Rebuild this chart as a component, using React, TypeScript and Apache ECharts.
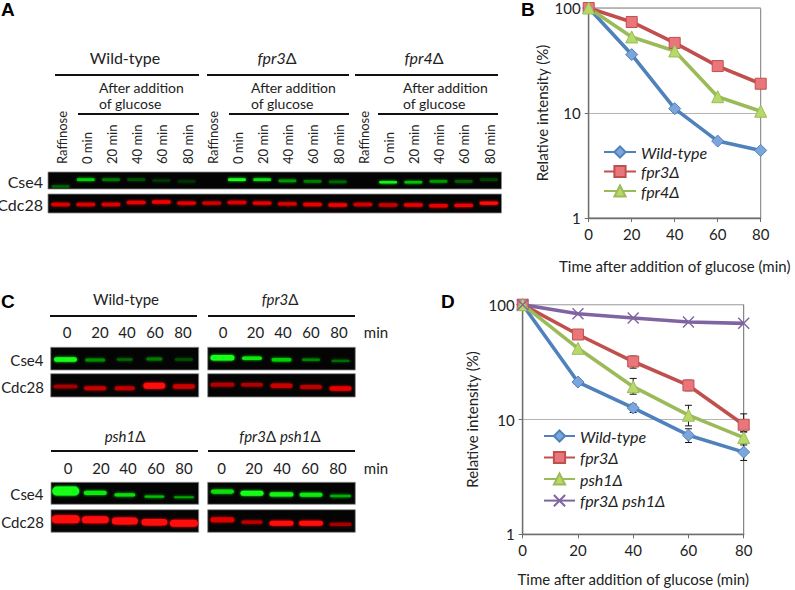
import React, { useEffect, useRef } from "react";
import * as echarts from "echarts";

const FONT = "Lato";
const timePoints = [0, 20, 40, 60, 80];

// Panel B values
const bWild = [100, 36, 11, 5.4, 4.4];
const bFpr3 = [100, 73.6, 46.5, 28, 19];
const bFpr4 = [100, 53, 39, 14.3, 10.4];

// Panel D values
const dWild = [100, 21.2, 12.6, 7.3, 5.2];
const dFpr3 = [100, 55, 32, 19.8, 9];
const dPsh1 = [100, 41.7, 19.3, 10.9, 6.95];
const dDouble = [100, 83.5, 76.6, 70.6, 68.8];

// Panel D error bars: [time, low, high]
const errWild = [[40, 11.5, 13.6], [60, 6.3, 8.3], [80, 4.4, 6.0]];
const errFpr3 = [[40, 28, 35.7], [60, 17.8, 22], [80, 7.8, 11.2]];
const errPsh1 = [[40, 16.6, 22.8], [60, 8.8, 13.3], [80, 6.2, 7.8]];

const yTicks = [1, 10, 100];

// Blot lanes, panel A
const lanesA = ["Raffinose", "0 min", "20 min", "40 min", "60 min", "80 min"];
const lanesC = ["0", "20", "40", "60", "80"];

// Band intensity, 0..1
const aCse4 = [0.3, 0.8, 0.4, 0.22, 0.12, 0.08, 0, 1, 0.85, 0.55, 0.42, 0.32, 0, 0.95, 0.75, 0.55, 0.28, 0.16];
const aCdc28 = [0.85, 0.85, 0.85, 0.9, 0.95, 0.9, 0.8, 0.85, 0.9, 0.85, 0.9, 0.95, 0.8, 0.75, 0.9, 0.9, 0.95, 1];
const aCse4Pos = [0.85, 0.45, 0.45, 0.45, 0.5, 0.55, 0.5, 0.45, 0.45, 0.52, 0.55, 0.58, 0.5, 0.6, 0.6, 0.55, 0.55, 0.45];
const aCdc28Pos = [0.55, 0.55, 0.55, 0.45, 0.42, 0.48, 0.48, 0.45, 0.48, 0.52, 0.55, 0.58, 0.55, 0.58, 0.58, 0.62, 0.6, 0.48];

const cWildCse4 = [1, 0.5, 0.32, 0.42, 0.22];
const cWildCdc28 = [0.6, 0.75, 0.72, 1, 0.78];
const cFpr3Cse4 = [1, 0.9, 0.8, 0.45, 0.35];
const cFpr3Cdc28 = [0.65, 0.65, 0.75, 0.7, 0.9];
const cPsh1Cse4 = [1, 0.9, 0.85, 0.72, 0.6];
const cPsh1Cdc28 = [1, 1, 1, 1, 1];
const cDoubleCse4 = [0.85, 1, 0.95, 0.9, 0.65];
const cDoubleCdc28 = [0.85, 0.7, 1, 1, 0.6];

const cWildCse4Pos = [0.54, 0.56, 0.54, 0.52, 0.54];
const cWildCdc28Pos = [0.55, 0.62, 0.62, 0.52, 0.55];
const cFpr3Cse4Pos = [0.46, 0.48, 0.55, 0.55, 0.6];
const cFpr3Cdc28Pos = [0.47, 0.47, 0.52, 0.57, 0.63];
const cPsh1Cse4Pos = [0.4, 0.48, 0.57, 0.65, 0.68];
const cPsh1Cdc28Pos = [0.42, 0.45, 0.5, 0.55, 0.6];
const cDoubleCse4Pos = [0.42, 0.5, 0.55, 0.57, 0.62];
const cDoubleCdc28Pos = [0.45, 0.55, 0.6, 0.6, 0.65];

const COLORS = {
  blue: "#4F81BD", blueFill: "#7CA6DB",
  red: "#C0504D", redFill: "#E8767A",
  green: "#9BBB59", greenFill: "#B7D96A",
  purple: "#8064A2",
  ink: "#222222", axis: "#6e6e6e",
};

const X_PATH = "path://M1 1L19 19M1 19L19 1";

function lineSeries(name: string, values: number[], grid: number, symbol: string, line: string, fill: string, size: number) {
  return {
    type: "line", name, xAxisIndex: grid, yAxisIndex: grid, symbol, symbolSize: size,
    showSymbol: true, z: 4,
    data: timePoints.map((t, i) => [t, values[i]]),
    lineStyle: { color: line, width: 3.6 },
    itemStyle: symbol === X_PATH
      ? { color: "none", borderColor: line, borderWidth: 1.4 }
      : { color: fill, borderColor: line, borderWidth: 1 },
  };
}

function errorSeries(rows: number[][], grid: number) {
  return {
    type: "custom", xAxisIndex: grid, yAxisIndex: grid, z: 3, silent: true, clip: false,
    data: rows, encode: { x: 0, y: [1, 2] },
    renderItem: (_p: any, api: any) => {
      const lo = api.coord([api.value(0), api.value(1)]);
      const hi = api.coord([api.value(0), api.value(2)]);
      const style = { stroke: "#111", lineWidth: 1, fill: "none" };
      const seg = (x1: number, y1: number, x2: number, y2: number) => ({ type: "line", shape: { x1, y1, x2, y2 }, style });
      return {
        type: "group",
        children: [
          seg(lo[0], lo[1], hi[0], hi[1]),
          seg(lo[0] - 3.5, lo[1], lo[0] + 3.5, lo[1]),
          seg(hi[0] - 3.5, hi[1], hi[0] + 3.5, hi[1]),
        ],
      };
    },
  };
}

type Strip = {
  rect: number[]; lanes: number; hue: "g" | "r";
  values: number[]; pos: number[]; w: number | number[]; h: number | number[];
};

const strips: Strip[] = [
  { rect: [48, 172, 453.5, 17], lanes: 18, hue: "g", values: aCse4, pos: aCse4Pos, w: 18, h: 2.6 },
  { rect: [48, 194, 453.5, 19], lanes: 18, hue: "r", values: aCdc28, pos: aCdc28Pos, w: 19, h: 3.4 },
  { rect: [50.7, 347.3, 148, 22.7], lanes: 5, hue: "g", values: cWildCse4, pos: cWildCse4Pos, w: [23, 20, 16, 16, 18], h: [4.5, 3, 2.4, 3, 2.4] },
  { rect: [50.7, 373.7, 148, 23.3], lanes: 5, hue: "r", values: cWildCdc28, pos: cWildCdc28Pos, w: [24, 22, 20, 22, 22], h: [3.5, 4, 4, 6, 4.5] },
  { rect: [207.7, 347.3, 147.6, 22.7], lanes: 5, hue: "g", values: cFpr3Cse4, pos: cFpr3Cse4Pos, w: [24, 20, 20, 18, 18], h: [5.5, 3.4, 3.4, 2.6, 2.4] },
  { rect: [207.7, 373.7, 147.6, 23.3], lanes: 5, hue: "r", values: cFpr3Cdc28, pos: cFpr3Cdc28Pos, w: [24, 22, 22, 22, 22], h: [3.8, 3.5, 4.5, 4, 4.5] },
  { rect: [51, 482.3, 147.7, 22], lanes: 5, hue: "g", values: cPsh1Cse4, pos: cPsh1Cse4Pos, w: [27, 23, 21, 20, 20], h: [9, 4.4, 3.2, 2.2, 2] },
  { rect: [51, 509.7, 147.7, 22.6], lanes: 5, hue: "r", values: cPsh1Cdc28, pos: cPsh1Cdc28Pos, w: [28, 27, 26, 26, 28], h: [8, 7, 7, 6.5, 7] },
  { rect: [207.7, 482.3, 147.6, 22], lanes: 5, hue: "g", values: cDoubleCse4, pos: cDoubleCse4Pos, w: [23, 23, 24, 23, 21], h: [4.2, 5, 4.4, 4, 2.4] },
  { rect: [207.7, 509.7, 147.6, 22.6], lanes: 5, hue: "r", values: cDoubleCdc28, pos: cDoubleCdc28Pos, w: [24, 21, 24, 24, 22], h: [5, 3.4, 5, 5, 3.4] },
];

function bandColor(hue: "g" | "r", k: number) {
  const v = Math.round(30 + 225 * k);
  const boost = Math.round(Math.max(0, k - 0.75) * 90);
  return hue === "g" ? `rgb(${boost},${v},${boost})` : `rgb(${v},${boost / 3},${boost / 3})`;
}

function at(v: number | number[], i: number) {
  return Array.isArray(v) ? v[i] : v;
}

function stripParts(firstGrid: number) {
  const grid: any[] = [], xAxis: any[] = [], yAxis: any[] = [], series: any[] = [];
  strips.forEach((s, n) => {
    const idx = firstGrid + n;
    grid.push({
      show: true, left: s.rect[0], top: s.rect[1], width: s.rect[2], height: s.rect[3],
      backgroundColor: "#040404", borderColor: "#8c8c8c", borderWidth: 0.8, containLabel: false,
    });
    xAxis.push({ type: "category", gridIndex: idx, show: false, data: s.values.map((_, i) => i) });
    yAxis.push({ type: "value", gridIndex: idx, show: false, min: 0, max: 1, inverse: true });
    series.push({
      type: "custom", xAxisIndex: idx, yAxisIndex: idx, silent: true, clip: true,
      data: s.values.map((k, i) => [i, s.pos[i], k, at(s.w, i), at(s.h, i)]),
      encode: { x: 0, y: 1 },
      renderItem: (_p: any, api: any) => {
        const c = api.coord([api.value(0), api.value(1)]);
        const k = api.value(2), w = api.value(3), h = api.value(4);
        const col = bandColor(s.hue, k);
        return k <= 0 ? { type: "group", children: [] } : {
          type: "rect",
          shape: { x: c[0] - w / 2, y: c[1] - h / 2, width: w, height: h, r: h / 2 },
          style: { fill: col, shadowBlur: 3, shadowColor: col },
        };
      },
    });
  });
  return { grid, xAxis, yAxis, series };
}

function txt(text: string, x: number, y: number, o: any = {}) {
  const { rotation, ...style } = o;
  return {
    type: "text", x, y, rotation: rotation || 0, z: 20, silent: true,
    style: {
      text, fill: COLORS.ink, fontFamily: FONT, fontSize: 15,
      align: "center", verticalAlign: "middle", ...style,
    },
  };
}

function hLine(x1: number, x2: number, y: number) {
  return { type: "line", z: 20, silent: true, shape: { x1, y1: y, x2, y2: y }, style: { stroke: "#111", lineWidth: 2 } };
}

const richDelta = (size: number) => ({
  i: { fontStyle: "italic", fontFamily: FONT, fontSize: size, fill: COLORS.ink, color: COLORS.ink },
  n: { fontFamily: FONT, fontSize: size, fill: COLORS.ink, color: COLORS.ink },
});

function plotAxes(grid: number, nameGap: number, yNameGap: number) {
  return {
    xAxis: {
      type: "value", gridIndex: grid, min: 0, max: 80, interval: 20,
      name: "Time after addition of glucose (min)", nameLocation: "middle", nameGap,
      nameTextStyle: { fontFamily: FONT, fontSize: 15, color: COLORS.ink },
      axisLine: { lineStyle: { color: COLORS.axis, width: 1.4 } },
      axisTick: { show: true, length: 4, lineStyle: { color: COLORS.axis } },
      axisLabel: { fontFamily: FONT, fontSize: 15, color: COLORS.ink, margin: 8 },
      splitLine: { show: false },
    },
    yAxis: {
      type: "log", gridIndex: grid, min: yTicks[0], max: yTicks[2], logBase: 10,
      name: "Relative intensity (%)", nameLocation: "middle", nameGap: yNameGap,
      nameTextStyle: { fontFamily: FONT, fontSize: 15, color: COLORS.ink },
      axisLine: { show: true, lineStyle: { color: COLORS.axis, width: 1.4 } },
      axisTick: { show: true, length: 4, lineStyle: { color: COLORS.axis } },
      axisLabel: { fontFamily: FONT, fontSize: 15, color: COLORS.ink, margin: 8 },
      splitLine: { show: true, lineStyle: { color: "#b4b4b4", width: 1 } },
      minorTick: { show: false },
    },
  };
}

function buildGraphic() {
  const g: any[] = [];
  const panel = (t: string, x: number, y: number) =>
    g.push(txt(t, x, y, { fontFamily: "Liberation Sans", fontWeight: "bold", fontSize: 19, fill: "#000", align: "left" }));
  panel("A", 1, 9); panel("B", 521, 9); panel("C", 1, 301); panel("D", 441, 301);

  // Panel A headings
  g.push(txt("Wild-type", 125, 57, { fontSize: 16 }));
  g.push(txt("{i|fpr3}{n|Δ}", 277, 57, { rich: richDelta(16) }));
  g.push(txt("{i|fpr4}{n|Δ}", 424, 57, { rich: richDelta(16) }));
  [[55, 199], [207, 349], [355, 498]].forEach(([a, b]) => g.push(hLine(a, b, 75)));
  [[78, 199], [229, 349], [378, 498]].forEach(([a, b]) => g.push(hLine(a, b, 114)));
  [99, 251, 403].forEach((x) => {
    g.push(txt("After addition", x, 87, { align: "left", fontSize: 14 }));
    g.push(txt("of glucose", x, 103, { align: "left", fontSize: 14 }));
  });
  [62, 213, 364].forEach((x0) => {
    lanesA.forEach((l, i) => {
      g.push(txt(l, x0 + i * 25.1, 164, { rotation: Math.PI / 2, align: "left", fontSize: 13 }));
    });
  });
  g.push(txt("Cse4", 43, 181, { align: "right", fontSize: 16 }));
  g.push(txt("Cdc28", 43, 204, { align: "right", fontSize: 16 }));

  // Panel C headings
  g.push(txt("Wild-type", 126, 299, { fontSize: 15 }));
  g.push(txt("{i|fpr3}{n|Δ}", 280, 299, { rich: richDelta(15) }));
  g.push(txt("{i|psh1}{n|Δ}", 125, 436, { rich: richDelta(15) }));
  g.push(txt("{i|fpr3}{n|Δ }{i|psh1}{n|Δ}", 280, 436, { rich: richDelta(15) }));
  g.push(hLine(50, 197, 316), hLine(208, 355, 316), hLine(51, 198, 451), hLine(208, 355, 451));
  const laneX = [
    [67, 100, 127, 155, 183, 332],
    [223, 255.5, 283, 311, 339, 332],
    [68, 101, 128, 156, 184, 468],
    [221.5, 254, 282, 310, 338, 468],
  ];
  laneX.forEach((row) => lanesC.forEach((l, i) => g.push(txt(l, row[i], row[5], { fontSize: 15 }))));
  g.push(txt("min", 376, 332, { fontSize: 15 }), txt("min", 376, 468, { fontSize: 15 }));
  [[360, 387], [494, 522]].forEach(([a, b]) => {
    g.push(txt("Cse4", 43.5, a, { align: "right", fontSize: 15 }));
    g.push(txt("Cdc28", 44, b, { align: "right", fontSize: 15 }));
  });
  return g;
}

const legendText = { fontFamily: FONT, fontSize: 16, fontStyle: "italic", color: COLORS.ink };

export default function App() {
  const ref = useRef<HTMLDivElement>(null);
  useEffect(() => {
    document.body.style.margin = "0";
    const chart = echarts.init(ref.current!, undefined, { renderer: "svg" });
    const B = plotAxes(0, 40, 39);
    const D = plotAxes(1, 37, 43);
    const parts = stripParts(2);
    chart.setOption({
      animation: false,
      grid: [
        { show: true, left: 588.7, top: 8, width: 172, height: 210, borderColor: "#7a7a7a", borderWidth: 1, backgroundColor: "transparent" },
        { show: true, left: 522.7, top: 304.7, width: 221, height: 229.6, borderColor: "#6a6a6a", borderWidth: 1, backgroundColor: "transparent" },
        ...parts.grid,
      ],
      xAxis: [B.xAxis, D.xAxis, ...parts.xAxis],
      yAxis: [B.yAxis, D.yAxis, ...parts.yAxis],
      legend: [
        {
          orient: "vertical", left: 603, top: 144, itemWidth: 32, itemHeight: 14, itemGap: 3.5, padding: 0,
          selectedMode: false, textStyle: legendText, data: ["Wild-type", "fpr3Δ", "fpr4Δ"], itemStyle: {}, align: "left",
        },
        {
          orient: "vertical", left: 543, top: 428, itemWidth: 31, itemHeight: 14, itemGap: 5.5, padding: 0,
          selectedMode: false, textStyle: legendText, data: ["Wild-type", "fpr3Δ", "psh1Δ", "fpr3Δ psh1Δ"], align: "left",
        },
      ],
      graphic: buildGraphic(),
      series: [
        lineSeries("Wild-type", bWild, 0, "diamond", COLORS.blue, COLORS.blueFill, 12),
        lineSeries("fpr3Δ", bFpr3, 0, "rect", COLORS.red, COLORS.redFill, 11),
        lineSeries("fpr4Δ", bFpr4, 0, "triangle", COLORS.green, COLORS.greenFill, 12),
        errorSeries(errWild, 1),
        errorSeries(errFpr3, 1),
        errorSeries(errPsh1, 1),
        lineSeries("Wild-type", dWild, 1, "diamond", COLORS.blue, COLORS.blueFill, 12),
        lineSeries("fpr3Δ", dFpr3, 1, "rect", COLORS.red, COLORS.redFill, 11),
        lineSeries("psh1Δ", dPsh1, 1, "triangle", COLORS.green, COLORS.greenFill, 12),
        lineSeries("fpr3Δ psh1Δ", dDouble, 1, X_PATH, COLORS.purple, COLORS.purple, 11),
        ...parts.series,
      ],
    });
    return () => chart.dispose();
  }, []);
  return <div ref={ref} style={{ position: "absolute", left: 0, top: 0, width: 795, height: 590, background: "#fff" }} />;
}
